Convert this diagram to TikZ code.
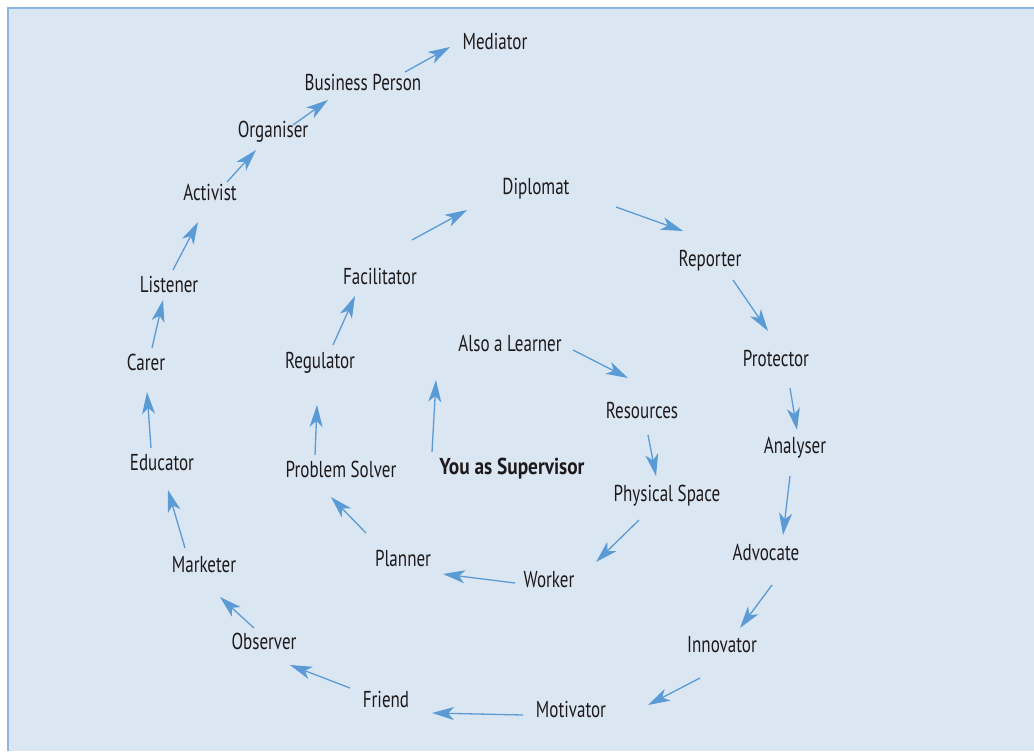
\documentclass[tikz,border=0pt]{standalone}
\usepackage{fontspec}
\setmainfont[FakeStretch=0.74, BoldFeatures={FakeStretch=0.84}]{PT Sans}
\usepackage{tikz}
\usetikzlibrary{arrows.meta,calc}
\definecolor{panel}{HTML}{DBE6F3}
\definecolor{frameline}{HTML}{8DB3E2}
\definecolor{spiral}{HTML}{5B9BD5}
\definecolor{ink}{HTML}{1E1A1B}
\tikzset{role/.style={text=ink, font=\fontsize{11.5}{13}\selectfont, inner sep=1pt},
         arr/.style={draw=spiral, line width=0.65pt, -{Stealth[length=11pt, width=6.5pt, inset=3pt]}}}

\begin{document}
\begin{tikzpicture}[x=0.5pt, y=-0.5pt]
    \useasboundingbox (0,0) rectangle (1034,751);
    \fill[panel] (8,8) rectangle (1034,751);
    \draw[frameline, line width=0.8pt] (8,751) -- (8,8) -- (1034,8);

    % centre
    \node[role, font=\fontsize{11.5}{13}\selectfont\bfseries] (you) at (512,469) {You as Supervisor};

    % inner turn
    \node[role] (learner) at (510,343) {Also a Learner};
    \node[role] (resources) at (642,410) {Resources};
    \node[role] (physical) at (667,496) {Physical Space};
    \node[role] (worker) at (549,580) {Worker};
    \node[role] (planner) at (403,558) {Planner};
    \node[role] (solver) at (341,469) {Problem Solver};
    \node[role] (regulator) at (320,363) {Regulator};
    \node[role] (facilitator) at (380,276) {Facilitator};
    \node[role] (diplomat) at (536,189) {Diplomat};
    \node[role] (reporter) at (710,261) {Reporter};
    \node[role] (protector) at (776,358) {Protector};
    \node[role] (analyser) at (795,448) {Analyser};
    \node[role] (advocate) at (766,552) {Advocate};
    \node[role] (innovator) at (722,645) {Innovator};

    % outer turn
    \node[role] (motivator) at (571,709) {Motivator};
    \node[role] (friend) at (386,699) {Friend};
    \node[role] (observer) at (264,641) {Observer};
    \node[role] (marketer) at (204,565) {Marketer};
    \node[role] (educator) at (162,463) {Educator};
    \node[role] (carer) at (146,362) {Carer};
    \node[role] (listener) at (169,284) {Listener};
    \node[role] (activist) at (210,192) {Activist};
    \node[role] (organiser) at (273,132) {Organiser};
    \node[role] (business) at (363,82) {Business Person};
    \node[role] (mediator) at (495,41) {Mediator};

    % inner arrows
    \draw[arr] ($(you)+(-80,-17)$) -- ($(learner)+(-74,37)$);
    \draw[arr] ($(learner)+(63,7)$) -- ($(resources)+(-14,-32)$);
    \draw[arr] ($(resources)+(6,25)$) -- ($(physical)+(-11,-20)$);
    \draw[arr] ($(physical)+(-28,24)$) -- ($(worker)+(47,-18)$);
    \draw[arr] ($(worker)+(-34,3)$) -- ($(planner)+(40,16)$);
    \draw[arr] ($(planner)+(-37,-25)$) -- ($(solver)+(-10,28)$);
    \draw[arr] ($(solver)+(-26,-14)$) -- ($(regulator)+(-3,42)$);
    \draw[arr] ($(regulator)+(13,-18)$) -- ($(facilitator)+(-25,20)$);
    \draw[arr] ($(facilitator)+(32,-36)$) -- ($(diplomat)+(-69,21)$);
    \draw[arr] ($(diplomat)+(80,18)$) -- ($(reporter)+(-27,-30)$);
    \draw[arr] ($(reporter)+(23,19)$) -- ($(protector)+(-8,-27)$);
    \draw[arr] ($(protector)+(14,30)$) -- ($(analyser)+(2,-18)$);
    \draw[arr] ($(analyser)+(-5,28)$) -- ($(advocate)+(17,-17)$);
    \draw[arr] ($(advocate)+(6,33)$) -- ($(innovator)+(18,-17)$);
    \draw[arr] ($(innovator)+(-22,33)$) -- ($(motivator)+(77,-4)$);

    % outer arrows
    \draw[arr] ($(motivator)+(-48,6)$) -- ($(friend)+(46,14)$);
    \draw[arr] ($(friend)+(-36,-11)$) -- ($(observer)+(26,24)$);
    \draw[arr] ($(observer)+(-10,-13)$) -- ($(marketer)+(16,32)$);
    \draw[arr] ($(marketer)+(-19,-17)$) -- ($(educator)+(6,27)$);
    \draw[arr] ($(educator)+(-11,-15)$) -- ($(carer)+(1,30)$);
    \draw[arr] ($(carer)+(6,-14)$) -- ($(listener)+(-6,16)$);
    \draw[arr] ($(listener)+(4,-14)$) -- ($(activist)+(-12,30)$);
    \draw[arr] ($(activist)+(17,-10)$) -- ($(organiser)+(-17,18)$);
    \draw[arr] ($(organiser)+(20,-7)$) -- ($(business)+(-35,18)$);
    \draw[arr] ($(business)+(42,-10)$) -- ($(mediator)+(-45,6)$);
\end{tikzpicture}
\end{document}
